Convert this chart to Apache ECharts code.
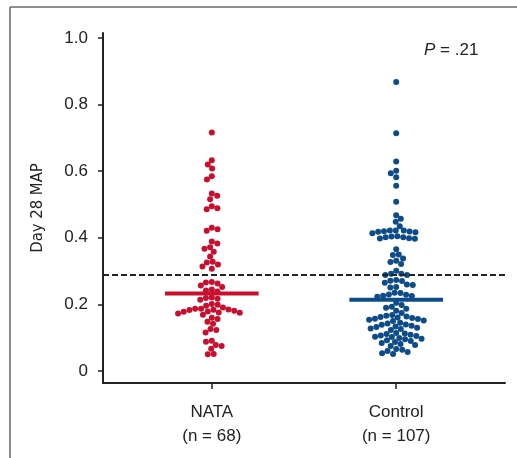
<!DOCTYPE html>
<html>
<head>
<meta charset="utf-8">
<script src="https://cdn.jsdelivr.net/npm/echarts@6/dist/echarts.min.js"></script>
<style>
html,body{margin:0;padding:0;background:#fff;}
#chart{width:517px;height:458px;}
</style>
</head>
<body>
<div id="chart"></div>
<script>
// ---- data ----
const categories = ['NATA', 'Control'];
const groupSizes = ['(n = 68)', '(n = 107)'];
const nataValues = [
  0.716, 0.633, 0.620, 0.608, 0.585, 0.575, 0.533, 0.526, 0.516, 0.495, 0.489, 0.486,
  0.430, 0.426, 0.421, 0.389, 0.383, 0.372, 0.367, 0.358, 0.344, 0.328, 0.326, 0.320, 0.314, 0.307,
  0.267, 0.266, 0.263, 0.257, 0.252,
  0.245, 0.242, 0.239,
  0.221, 0.219, 0.217, 0.214,
  0.201, 0.199, 0.196, 0.191,
  0.187, 0.187, 0.185, 0.184, 0.183, 0.181, 0.179, 0.178, 0.176, 0.175,
  0.173, 0.169, 0.160, 0.156,
  0.148, 0.142,
  0.126, 0.123, 0.116,
  0.091, 0.088, 0.078, 0.075, 0.067,
  0.051, 0.050
];
const controlValues = [
  0.868, 0.714, 0.629, 0.601, 0.594, 0.582, 0.556, 0.508,
  0.468, 0.457, 0.448, 0.435,
  0.422, 0.422, 0.420, 0.419, 0.418, 0.417, 0.414, 0.422,
  0.405, 0.402, 0.398, 0.397, 0.399, 0.402, 0.404,
  0.366,
  0.350, 0.348, 0.338, 0.331, 0.321, 0.327,
  0.301, 0.292, 0.292, 0.288, 0.288,
  0.273, 0.271, 0.270, 0.265, 0.260, 0.258, 0.252, 0.251,
  0.235, 0.234, 0.230, 0.229, 0.226, 0.225, 0.223,
  0.205, 0.198, 0.193, 0.190, 0.187, 0.181, 0.174,
  0.168, 0.166, 0.164, 0.162, 0.161, 0.159, 0.157, 0.156, 0.154, 0.152, 0.150,
  0.145, 0.143, 0.140, 0.139, 0.136, 0.134, 0.132, 0.130, 0.128, 0.126, 0.123,
  0.114, 0.113, 0.111, 0.109, 0.107, 0.105, 0.103, 0.102,
  0.099, 0.097, 0.095, 0.092, 0.090, 0.087,
  0.084, 0.081, 0.078, 0.075,
  0.066, 0.064, 0.060, 0.057, 0.053, 0.051
];
const medians = [0.233, 0.214];
const thresholdValue = 0.286;
const yTicks = [0, 0.2, 0.4, 0.6, 0.8, 1.0];
const pText = '.21';

// ---- styles ----
const RED = '#c8102e';
const BLUE = '#0d4c88';
const INK = '#222';
const FONT = '"Liberation Sans", Arial, Helvetica, sans-serif';
const DOT = 6;
const SPACING = 5.9;

const chart = echarts.init(document.getElementById('chart'), null, {renderer: 'canvas'});

const baseOption = {
  animation: false,
  backgroundColor: '#fff',
  textStyle: {fontFamily: FONT},
  grid: {left: 103, right: 12, top: 33, bottom: 75, containLabel: false},
  graphic: [
    {type: 'line', shape: {x1: 10, y1: 7, x2: 517, y2: 7}, style: {stroke: '#6b6b6b', lineWidth: 1.6}},
    {type: 'line', shape: {x1: 10, y1: 7, x2: 10, y2: 458}, style: {stroke: '#6b6b6b', lineWidth: 1.6}}
  ],
  title: {
    text: '{i|P} = ' + pText,
    left: 419, top: 37,
    textStyle: {
      fontFamily: FONT, fontSize: 17, fontWeight: 'normal', color: INK,
      rich: {i: {fontFamily: FONT, fontSize: 17, fontStyle: 'italic', color: INK}}
    }
  },
  xAxis: {
    type: 'value', min: 0.41, max: 2.59,
    splitLine: {show: false},
    axisLine: {show: true, onZero: false, lineStyle: {color: INK, width: 2}},
    axisTick: {show: true, length: 6, customValues: [1, 2], lineStyle: {color: INK, width: 1.5}},
    axisLabel: {
      show: true, customValues: [1, 2], margin: 17,
      fontFamily: FONT, fontSize: 17, color: INK, lineHeight: 24,
      formatter: v => {
        const i = Math.round(v) - 1;
        return categories[i] + '\n' + groupSizes[i];
      }
    }
  },
  yAxis: {
    type: 'value', min: -0.036, max: 1.015,
    name: 'Day 28 MAP', nameLocation: 'middle', nameGap: 57, nameRotate: 90,
    nameTextStyle: {fontFamily: '"DejaVu Sans Condensed", "Liberation Sans", Arial, sans-serif', fontSize: 16.5, color: INK},
    splitLine: {show: false},
    axisLine: {show: true, onZero: false, lineStyle: {color: INK, width: 2}},
    axisTick: {show: true, length: 5, customValues: yTicks, lineStyle: {color: INK, width: 1.5}},
    axisLabel: {
      show: true, customValues: yTicks, margin: 15,
      fontFamily: FONT, fontSize: 17, color: INK,
      formatter: v => (Math.abs(v) < 1e-9 ? '0' : v.toFixed(1))
    }
  },
  series: []
};

chart.setOption(baseOption);

// scale factors from the library's own axes
const pA = chart.convertToPixel({gridIndex: 0}, [1, 0]);
const pB = chart.convertToPixel({gridIndex: 0}, [2, 1]);
const pxPerX = pB[0] - pA[0];
const pxPerY = pA[1] - pB[1];

function swarm(values, center) {
  const order = values.map((v, i) => i).sort((a, b) => values[b] - values[a]);
  const placed = [];
  const out = [];
  let flip = 1;
  for (const idx of order) {
    const v = values[idx];
    const y = v * pxPerY;
    const ivs = [];
    for (const q of placed) {
      const dy = y - q.y;
      if (Math.abs(dy) < SPACING) {
        const dx = Math.sqrt(SPACING * SPACING - dy * dy);
        ivs.push([q.x - dx, q.x + dx]);
      }
    }
    const cands = [0];
    ivs.forEach(iv => cands.push(iv[0], iv[1]));
    cands.sort((a, b) => (Math.abs(a) - Math.abs(b)) || (flip * (a - b)));
    let x = 0;
    for (const c of cands) {
      if (ivs.every(iv => c <= iv[0] + 1e-9 || c >= iv[1] - 1e-9)) { x = c; break; }
    }
    if (x !== 0) flip = -flip;
    placed.push({x, y});
    out.push([center + x / pxPerX, v]);
  }
  return out;
}

const halfBar = 0.254;
chart.setOption({
  series: [
    {
      type: 'scatter', name: categories[0], data: swarm(nataValues, 1),
      symbol: 'circle', symbolSize: DOT, itemStyle: {color: RED, opacity: 1}, z: 3
    },
    {
      type: 'scatter', name: categories[1], data: swarm(controlValues, 2),
      symbol: 'circle', symbolSize: DOT, itemStyle: {color: BLUE, opacity: 1}, z: 3,
      markLine: {
        silent: true, symbol: 'none', label: {show: false},
        lineStyle: {color: INK, type: [6, 3], width: 2},
        data: [{yAxis: thresholdValue}]
      }
    },
    {
      type: 'line', data: [[1 - halfBar, medians[0]], [1 + halfBar, medians[0]]],
      symbol: 'none', lineStyle: {color: RED, width: 4}, z: 4
    },
    {
      type: 'line', data: [[2 - halfBar, medians[1]], [2 + halfBar, medians[1]]],
      symbol: 'none', lineStyle: {color: BLUE, width: 4}, z: 4
    }
  ]
});
</script>
</body>
</html>
